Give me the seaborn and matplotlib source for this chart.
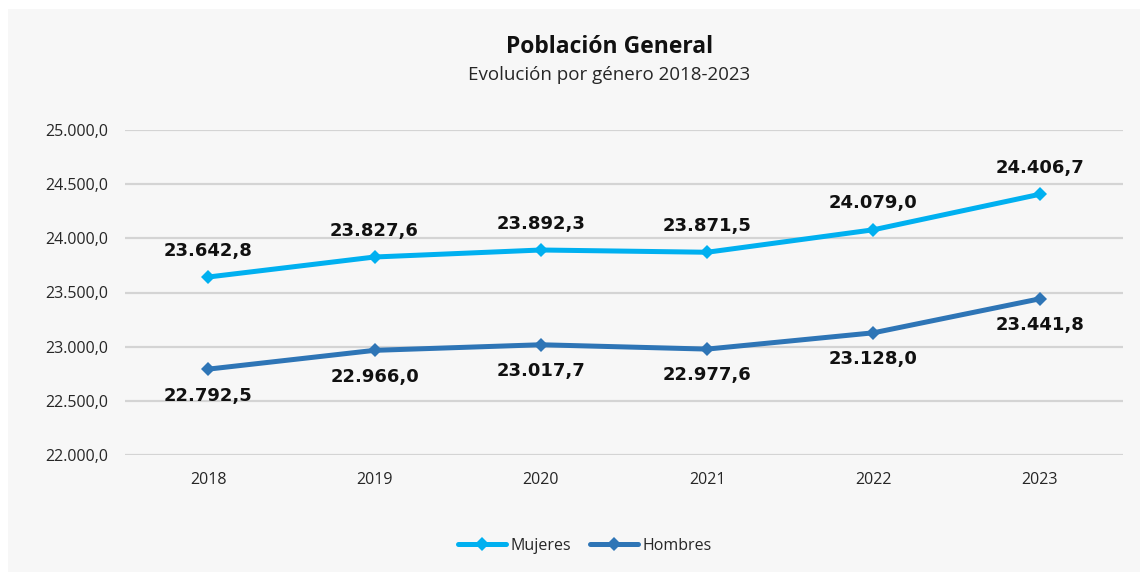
import matplotlib
matplotlib.use("Agg")
import matplotlib.pyplot as plt
import seaborn as sns
import pandas as pd
from matplotlib.patches import Rectangle
from matplotlib.lines import Line2D

years = ["2018", "2019", "2020", "2021", "2022", "2023"]
mujeres = [23642.8, 23827.6, 23892.3, 23871.5, 24079.0, 24406.7]
hombres = [22792.5, 22966.0, 23017.7, 22977.6, 23128.0, 23441.8]
series_names = ["Mujeres", "Hombres"]
colors = {"Mujeres": "#00B0F0", "Hombres": "#2E75B6"}
title = "Población General"
subtitle = "Evolución por género 2018-2023"
yticks = [22000, 22500, 23000, 23500, 24000, 24500, 25000]


def fmt(v):
    s = f"{v:,.1f}"
    return s.replace(",", "X").replace(".", ",").replace("X", ".")


df = pd.DataFrame({
    "year": years * 2,
    "x": list(range(len(years))) * 2,
    "value": mujeres + hombres,
    "serie": [series_names[0]] * len(years) + [series_names[1]] * len(years),
})

sns.set_theme(style="white")
plt.rcParams["font.family"] = ["Open Sans", "DejaVu Sans"]

fig = plt.figure(figsize=(11.4, 5.72), dpi=100)
fig.patch.set_facecolor("#F7F7F7")
# white outer strips (top and left)
fig.add_artist(Rectangle((0, 1 - 9 / 572), 1, 9 / 572, transform=fig.transFigure,
                         facecolor="white", edgecolor="none", zorder=0))
fig.add_artist(Rectangle((0, 0), 8 / 1140, 1, transform=fig.transFigure,
                         facecolor="white", edgecolor="none", zorder=0))

ax = fig.add_axes([125 / 1140, 1 - 455 / 572, (1123 - 125) / 1140, (455 - 130) / 572])
ax.set_facecolor("none")

sns.lineplot(data=df, x="x", y="value", hue="serie", palette=colors, ax=ax,
             marker="D", markersize=7, markeredgewidth=0, linewidth=3.6,
             legend=False, zorder=3)

ax.set_xlim(-0.5, len(years) - 0.5)
ax.set_ylim(22000, 25000)
ax.set_yticks(yticks)
ax.set_yticklabels([fmt(v) for v in yticks], fontsize=11.5, color="#262626")
ax.set_xticks(range(len(years)))
ax.set_xticklabels(years, fontsize=11.5, color="#262626")
ax.tick_params(axis="both", length=0)
ax.tick_params(axis="y", pad=12)
ax.tick_params(axis="x", pad=12)
ax.set_xlabel("")
ax.set_ylabel("")
ax.grid(axis="y", color="#D4D4D4", linewidth=1.6, zorder=1)
for s in ax.spines.values():
    s.set_visible(False)

for i, v in enumerate(mujeres):
    ax.annotate(fmt(v), (i, v), xytext=(0, 19), textcoords="offset points",
                ha="center", va="center", fontsize=13, fontweight="bold",
                color="#111111", family=["DejaVu Sans"])
for i, v in enumerate(hombres):
    ax.annotate(fmt(v), (i, v), xytext=(0, -19), textcoords="offset points",
                ha="center", va="center", fontsize=13, fontweight="bold",
                color="#111111", family=["DejaVu Sans"])

fig.text(610 / 1140, 1 - 47 / 572, title, ha="center", va="center",
         fontsize=16.5, fontweight="bold", color="#111111")
fig.text(609 / 1140, 1 - 75 / 572, subtitle, ha="center", va="center",
         fontsize=13.5, color="#262626")

handles = [Line2D([0], [0], color=colors[n], linewidth=3.6, marker="D",
                  markersize=7, markeredgewidth=0) for n in series_names]
fig.legend(handles, series_names, loc="center", bbox_to_anchor=(585 / 1140, 1 - 546 / 572),
           ncol=2, frameon=False, fontsize=11.5, handlelength=3, handletextpad=0.3,
           columnspacing=1.2)

fig.savefig("out.png", dpi=100, facecolor=fig.get_facecolor())
